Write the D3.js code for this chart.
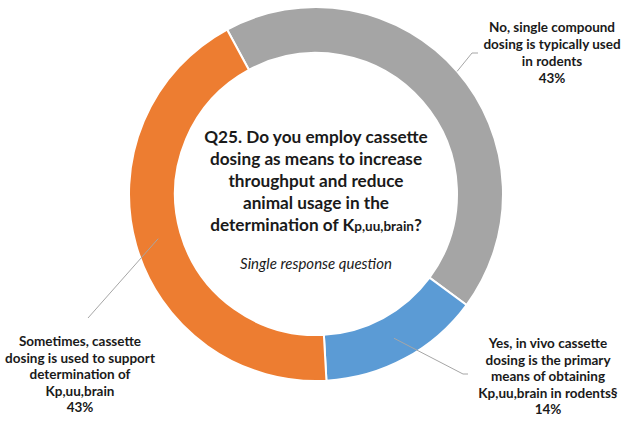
<!DOCTYPE html>
<html>
<head>
<meta charset="utf-8">
<script src="https://cdn.jsdelivr.net/npm/d3@7"></script>
<style>
  html, body { margin: 0; padding: 0; background: #ffffff; }
  svg { display: block; }
  text { font-family: Lato, "Open Sans", sans-serif; fill: #1a1a1a; }
</style>
</head>
<body>
<svg id="chart" width="632" height="421"></svg>
<script>
// Survey answers, in clockwise drawing order
const categories = ["No", "Yes", "Sometimes"];
const values = [43, 14, 43];
const colors = ["#a5a5a5", "#5b9bd5", "#ed7d31"];
const percentLabels = ["43%", "14%", "43%"];
const labelLines = [
  ["No, single compound", "dosing is typically used", "in rodents"],
  ["Yes, in vivo cassette", "dosing is the primary", "means of obtaining", "Kp,uu,brain in rodents§"],
  ["Sometimes, cassette", "dosing is used to support", "determination of", "Kp,uu,brain"]
];
const titleLines = [
  "Q25. Do you employ cassette",
  "dosing as means to increase",
  "throughput and reduce",
  "animal usage in the"
];
const subtitle = "Single response question";

const svg = d3.select("#chart");
const cx = 316, cy = 194;
const rOuter = 187, rInner = 141;
const startDeg = -28.4;

const pie = d3.pie().sort(null).value(d => d)
  .startAngle(startDeg * Math.PI / 180)
  .endAngle((startDeg + 360) * Math.PI / 180);
const arcs = pie(values);

const arc = d3.arc().innerRadius(rInner).outerRadius(rOuter);
const g = svg.append("g").attr("transform", `translate(${cx},${cy})`);

g.selectAll("path.slice")
  .data(arcs)
  .join("path")
  .attr("class", "slice")
  .attr("d", arc)
  .attr("fill", (d, i) => colors[i])
  .attr("stroke", "#ffffff")
  .attr("stroke-width", 2);

// Leader lines: start radius along each slice's mid angle, then elbow toward the label
const leaderStartR = [rOuter, (rInner + rOuter) / 2, (rInner + rOuter) / 2];
const leaderPath = [
  [[472, 53], [478, 53]],
  [[463, 374], [468, 374]],
  [[88, 318]]
];
arcs.forEach((a, i) => {
  const mid = (a.startAngle + a.endAngle) / 2;
  const p0 = [cx + leaderStartR[i] * Math.sin(mid), cy - leaderStartR[i] * Math.cos(mid)];
  const pts = [p0].concat(leaderPath[i]);
  svg.append("path")
    .attr("d", d3.line()(pts))
    .attr("fill", "none")
    .attr("stroke", "#a6a6a6")
    .attr("stroke-width", 1);
});

// Outside category labels
const labelPos = [
  { x: 552, y: 32, dy: 17 },
  { x: 548, y: 348, dy: 16.5 },
  { x: 80, y: 346, dy: 16.5 }
];
labelLines.forEach((lines, i) => {
  const t = svg.append("text")
    .attr("text-anchor", "middle")
    .attr("font-size", 13.5)
    .attr("font-weight", "bold");
  lines.concat([percentLabels[i]]).forEach((ln, j) => {
    t.append("tspan")
      .attr("x", labelPos[i].x)
      .attr("y", labelPos[i].y + j * labelPos[i].dy)
      .text(ln);
  });
});

// Centre title
const title = svg.append("text")
  .attr("text-anchor", "middle")
  .attr("font-size", 17.2)
  .attr("font-weight", "bold");
titleLines.forEach((ln, j) => {
  title.append("tspan").attr("x", cx).attr("y", 143 + j * 22).text(ln);
});
const last = title.append("tspan").attr("x", cx).attr("y", 143 + 4 * 22);
last.text("determination of K");
title.append("tspan").attr("font-size", 13.5).text("p,uu,brain");
title.append("tspan").text("?");

svg.append("text")
  .attr("x", cx)
  .attr("y", 269)
  .attr("text-anchor", "middle")
  .attr("font-size", 15)
  .attr("font-style", "italic")
  .text(subtitle);
</script>
</body>
</html>
